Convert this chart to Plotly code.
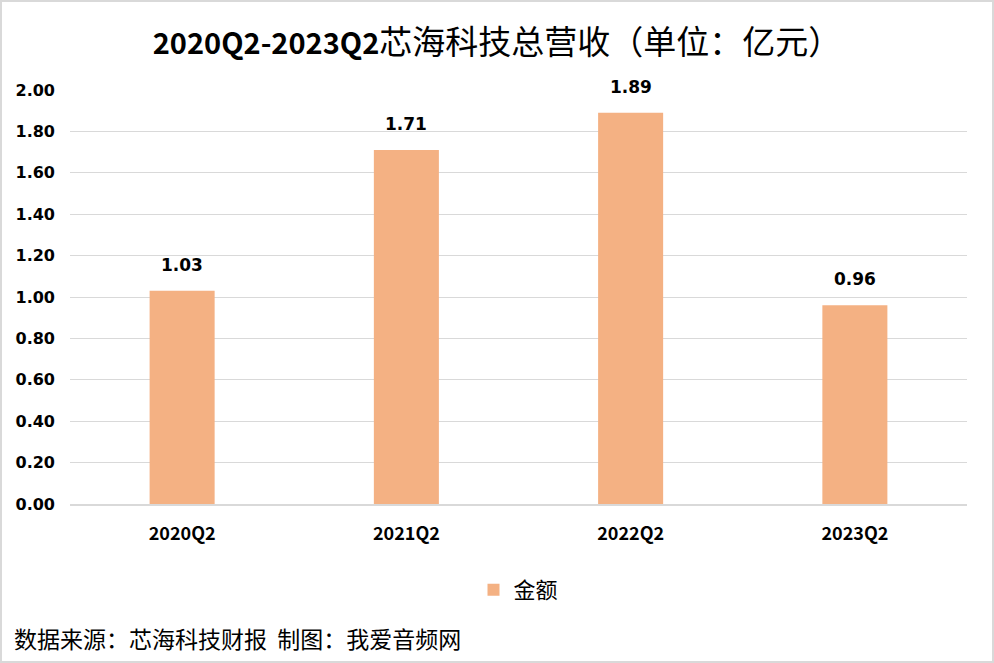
import plotly.graph_objects as go

categories = ["2020Q2", "2021Q2", "2022Q2", "2023Q2"]
values = [1.03, 1.71, 1.89, 0.96]
value_labels = ["1.03", "1.71", "1.89", "0.96"]
y_ticks = [0.0, 0.2, 0.4, 0.6, 0.8, 1.0, 1.2, 1.4, 1.6, 1.8, 2.0]
y_tick_labels = ["0.00", "0.20", "0.40", "0.60", "0.80", "1.00", "1.20", "1.40", "1.60", "1.80", "2.00"]
series_name = "金额"
title_num = "2020Q2-2023Q2"
title_cn = "芯海科技总营收（单位：亿元）"
source_text = "数据来源：芯海科技财报  制图：我爱音频网"

W, H = 994, 663
ML, MR, MT, MB = 70, 27, 90, 159
PW, PH = W - ML - MR, H - MT - MB

fig = go.Figure()
fig.add_trace(go.Bar(
    x=categories, y=values, name=series_name,
    marker=dict(color="#F4B183", line=dict(width=0)),
    width=0.29,
    showlegend=True,
))

annotations = []
for c, v, t in zip(categories, values, value_labels):
    annotations.append(dict(
        x=c, y=v, xref="x", yref="y", text="<b>%s</b>" % t, showarrow=False,
        yanchor="middle", yshift=26,
        font=dict(family="DejaVu Sans, Verdana, sans-serif", size=17, color="#000000"),
    ))
annotations.append(dict(
    text=source_text, xref="paper", yref="paper",
    x=-(ML - 12) / PW, xanchor="left", y=-(638 - (MT + PH)) / PH, yanchor="middle",
    showarrow=False,
    font=dict(family="Noto Sans CJK SC, sans-serif", size=23, color="#000000"),
))

fig.update_layout(
    width=W, height=H,
    margin=dict(l=ML, r=MR, t=MT, b=MB),
    paper_bgcolor="white", plot_bgcolor="white",
    title=dict(text="<b><span style='font-size:29px'>%s</span></b>%s" % (title_num, title_cn),
               x=0.5, xanchor="center", y=1 - 42 / H, yanchor="middle",
               font=dict(family="Noto Sans CJK SC, sans-serif", size=33, color="#000000")),
    xaxis=dict(
        showgrid=False, showline=True, linecolor="#d9d9d9", linewidth=2,
        tickfont=dict(family="Liberation Sans Narrow, Noto Sans CJK SC, sans-serif", size=18, color="#000000"),
        ticks="", ticklabelstandoff=12,
        tickvals=categories, ticktext=["<b>%s</b>" % c for c in categories],
    ),
    yaxis=dict(
        range=[0, 2.0], tickvals=y_ticks, ticktext=["<b>%s</b>" % t for t in y_tick_labels],
        showgrid=True, gridcolor="#d9d9d9", gridwidth=1, zeroline=False,
        showline=False, ticks="",
        tickfont=dict(family="DejaVu Sans, Verdana, sans-serif", size=16, color="#000000"),
        ticklabelstandoff=14,
    ),
    legend=dict(orientation="h", x=0.5, xanchor="center", y=-(590 - 504) / PH, yanchor="middle",
                font=dict(family="Noto Sans CJK SC, sans-serif", size=22, color="#000000"),
                itemwidth=30),
    bargap=0.71,
    annotations=annotations,
    shapes=[dict(
        type="rect", xref="paper", yref="paper",
        x0=-(ML - 1) / PW, x1=1 + (MR - 1) / PW,
        y0=-(MB - 1) / PH, y1=1 + (MT - 1) / PH,
        line=dict(color="#d9d9d9", width=2), fillcolor="rgba(0,0,0,0)", layer="below",
    )],
)

fig.write_html("out.html")
